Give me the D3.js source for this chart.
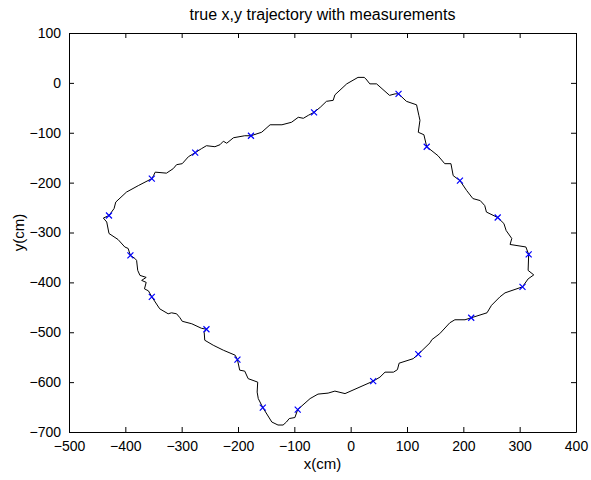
<!DOCTYPE html>
<html lang="en">
<head>
    <meta charset="UTF-8">
    <title>true x,y trajectory with measurements</title>
    <script src="https://cdnjs.cloudflare.com/ajax/libs/d3/7.8.5/d3.min.js"></script>
    <style>
        body { margin: 0; background: #fff; }
        svg { display: block; font-family: "Liberation Sans", Arial, Helvetica, sans-serif; }
        .axis path, .axis line { stroke: #000; }
        .axis text { fill: #000; font-size: 14px; }
    </style>
</head>
<body>
    <svg id="chart" width="591" height="480"></svg>

    <script>
        // 真實軌跡 (cm)
        const trajX = [13, 24, 27, 34, 46, 69, 79, 85, 99, 117, 121, 123, 120, 130, 135, 155, 167, 178, 182, 194,
            206, 217, 230, 238, 241, 261, 272, 276, 286, 283, 311, 316, 315, 325, 315, 305, 274, 265, 250, 242,
            214, 203, 185, 176, 158, 144, 141, 120, 111, 86, 83, 76, 61, 52, 40, -10, -28, -40, -58, -72,
            -94, -99, -109, -114, -120, -129, -140, -156, -164, -166, -165, -182, -188, -197, -201, -205, -226, -244, -259, -260,
            -256, -265, -282, -299, -303, -309, -318, -324, -339, -353, -359, -366, -363, -371, -363, -374, -378, -380, -383, -391,
            -395, -401, -413, -429, -433, -439, -429, -420, -417, -398, -377, -353, -350, -347, -327, -315, -309, -299, -288, -276,
            -265, -256, -241, -232, -226, -220, -208, -188, -177, -158, -143, -122, -105, -93, -84, -75, -65, -54, -43, -31,
            -28, -7, 13];
        const trajY = [11, 11, 8, -2, -2, -25, -22, -22, -37, -44, -65, -75, -99, -104, -128, -146, -162, -162, -186, -196,
            -216, -232, -236, -246, -259, -270, -282, -296, -312, -324, -329, -344, -376, -385, -393, -409, -421, -429, -446, -461,
            -471, -475, -475, -481, -503, -515, -521, -544, -553, -562, -575, -580, -580, -590, -598, -623, -618, -622, -624, -633,
            -655, -671, -673, -680, -686, -686, -680, -651, -633, -620, -600, -593, -578, -576, -555, -546, -536, -526, -516, -500,
            -494, -492, -483, -478, -471, -463, -461, -463, -453, -429, -417, -413, -400, -396, -390, -386, -376, -356, -352, -346,
            -332, -329, -314, -302, -279, -271, -266, -252, -239, -219, -206, -192, -186, -179, -181, -172, -164, -162, -148, -140,
            -132, -126, -128, -124, -117, -121, -110, -106, -106, -99, -84, -84, -79, -69, -71, -65, -59, -49, -37, -35,
            -24, -2, 11];

        // 量測點 (cm)
        const measX = [85, 135, 194, 261, 316, 305, 214, 120, 40, -94, -156, -201, -256, -353, -391, -429, -353, -276, -177, -65];
        const measY = [-22, -128, -196, -270, -344, -409, -471, -544, -598, -655, -651, -555, -494, -429, -346, -266, -192, -140, -106, -59];

        const xTicks = [-500, -400, -300, -200, -100, 0, 100, 200, 300, 400];
        const yTicks = [100, 0, -100, -200, -300, -400, -500, -600, -700];

        const margin = { top: 33, right: 15, bottom: 48, left: 69 };
        const width = 591 - margin.left - margin.right;
        const height = 480 - margin.top - margin.bottom;

        const svg = d3.select("#chart");
        const g = svg.append("g").attr("transform", `translate(${margin.left},${margin.top})`);

        const x = d3.scaleLinear().domain([-500, 400]).range([0, width]);
        const y = d3.scaleLinear().domain([-700, 100]).range([height, 0]);

        // 四邊刻度 (MATLAB 風格, 向內)
        g.append("g").attr("class", "axis")
            .attr("transform", `translate(0,${height})`)
            .call(d3.axisBottom(x).tickValues(xTicks).tickSize(-5).tickPadding(9).tickSizeOuter(0));
        g.append("g").attr("class", "axis")
            .call(d3.axisTop(x).tickValues(xTicks).tickSize(-5).tickSizeOuter(0).tickFormat(""));
        g.append("g").attr("class", "axis")
            .call(d3.axisLeft(y).tickValues(yTicks).tickSize(-5).tickPadding(8).tickSizeOuter(0));
        g.append("g").attr("class", "axis")
            .attr("transform", `translate(${width},0)`)
            .call(d3.axisRight(y).tickValues(yTicks).tickSize(-5).tickSizeOuter(0).tickFormat(""));

        // 軌跡
        const line = d3.line().x((d, i) => x(trajX[i])).y((d, i) => y(trajY[i]));
        g.append("path")
            .attr("d", line(trajX))
            .attr("fill", "none")
            .attr("stroke", "#000")
            .attr("stroke-width", 1);

        // 量測點 x 標記
        const s = 3;
        g.selectAll(".meas")
            .data(measX)
            .join("path")
            .attr("class", "meas")
            .attr("d", (d, i) => {
                const cx = x(measX[i]), cy = y(measY[i]);
                return `M${cx - s},${cy - s}L${cx + s},${cy + s}M${cx - s},${cy + s}L${cx + s},${cy - s}`;
            })
            .attr("stroke", "#0000ff")
            .attr("stroke-width", 1.2)
            .attr("fill", "none");

        // 標題與軸標籤
        svg.append("text")
            .attr("x", margin.left + width / 2)
            .attr("y", 20)
            .attr("text-anchor", "middle")
            .attr("font-size", 16)
            .text("true x,y trajectory with measurements");
        svg.append("text")
            .attr("x", margin.left + width / 2)
            .attr("y", 469)
            .attr("text-anchor", "middle")
            .attr("font-size", 15)
            .text("x(cm)");
        svg.append("text")
            .attr("transform", `translate(24,${margin.top + height / 2}) rotate(-90)`)
            .attr("text-anchor", "middle")
            .attr("font-size", 15)
            .text("y(cm)");
    </script>
</body>
</html>
